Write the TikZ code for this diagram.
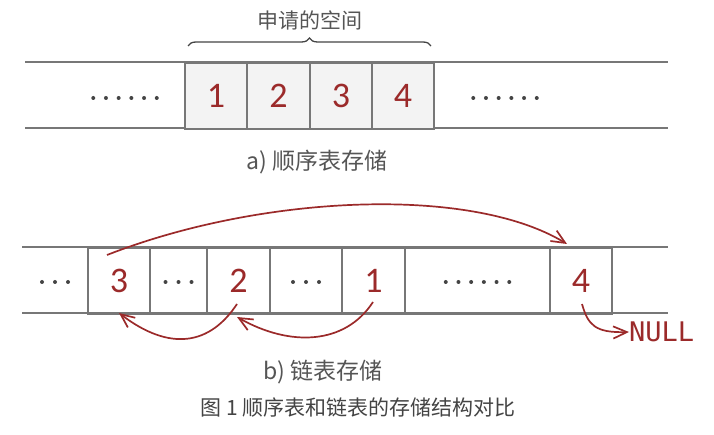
\documentclass[tikz,border=0pt]{standalone}
\usepackage{fontspec}
\setmainfont{Carlito}
\newfontfamily\cjk{Noto Sans CJK SC}
\newfontfamily\nulltxtfont{DejaVu Sans Mono}
\usetikzlibrary{arrows.meta,decorations.pathreplacing}
\definecolor{lred}{HTML}{9B2A2A}
\definecolor{lgray}{HTML}{777777}
\definecolor{cfill}{HTML}{F3F3F3}
\definecolor{tgray}{HTML}{555555}
\definecolor{dgray}{HTML}{444444}
\tikzset{
  rowline/.style={draw=lgray,line width=1.5pt},
  cell/.style={draw=lgray,line width=1.5pt,minimum height=66pt,inner sep=0pt,
    text=lred,font=\fontsize{36}{36}\selectfont},
  gcell/.style={cell,fill=cfill},
  link/.style={draw=lred,line width=1.7pt,-{Straight Barb[angle=48:15pt,line width=1.7pt]}},
  captext/.style={font=\cjk\fontsize{23}{23}\selectfont,text=tgray},
  dotc/.style={fill=dgray}
}
\begin{document}
\begin{tikzpicture}[x=1pt,y=-1pt]
\useasboundingbox (0,0) rectangle (714,435);
% ---- a) sequential
\draw[rowline] (25,62) -- (668,62);
\draw[rowline] (25,128) -- (668,128);
\node[gcell,minimum width=62pt] (t1) at (216,96) {1};
\node[gcell,minimum width=63pt] (t2) at (278.5,96) {2};
\node[gcell,minimum width=62pt] (t3) at (341,96) {3};
\node[gcell,minimum width=62pt] (t4) at (403,96) {4};
\coordinate (tl) at (125,98);
\coordinate (tr) at (505,98);
\foreach \k in {-2.5,-1.5,...,2.5} {
  \fill[dotc] (tl) ++(\k*12.7,0) circle (2);
  \fill[dotc] (tr) ++(\k*12.7,0) circle (2);
}
\draw[decorate,decoration={brace,amplitude=8pt},draw=dgray,line width=1.3pt] (188,46) -- (431,46);
\node[font=\cjk\fontsize{21}{21}\selectfont,text=tgray] (lbl) at (310,20) {申请的空间};
\node[captext] (capa) at (317,162) {a) 顺序表存储};
% ---- b) linked
\draw[rowline] (22,247) -- (668,247);
\draw[rowline] (22,313) -- (668,313);
\node[cell,minimum width=62pt] (b3) at (119,281) {3};
\node[cell,minimum width=57pt] (bd2) at (178.5,281) {};
\node[cell,minimum width=63pt] (b2) at (238.5,281) {2};
\node[cell,minimum width=72pt] (bd3) at (306,281) {};
\node[cell,minimum width=63pt] (b1) at (373.5,281) {1};
\node[cell,minimum width=145pt] (bd4) at (477.5,281) {};
\node[cell,minimum width=62pt] (b4) at (581,281) {4};
\coordinate (bd1) at (55,282);
\foreach \k in {-1,0,1} {
  \fill[dotc] (bd1) ++(\k*13,0) circle (2);
  \fill[dotc] (bd2) ++(\k*13,1) circle (2);
  \fill[dotc] (bd3) ++(\k*13,1) circle (2);
}
\foreach \k in {-2.5,-1.5,...,2.5}
  \fill[dotc] (bd4) ++(\k*12.7,1) circle (2);
% links
\coordinate (s3) at (107,255);
\coordinate (e4) at (567,244);
\draw[link] (s3) .. controls (260,195) and (470,185) .. (e4);
\coordinate (s2) at (237,304);
\coordinate (e3) at (119,313);
\draw[link] (s2) .. controls (210,345) and (170,352) .. (e3);
\coordinate (s1) at (373,302);
\coordinate (e2) at (237,317);
\draw[link] (s1) .. controls (345,345) and (290,347) .. (e2);
\coordinate (s4) at (582,304);
\node[anchor=west,text=lred,font=\nulltxtfont\fontsize{27}{27}\selectfont,inner sep=0pt] (null) at (629,332) {NULL};
\draw[link] (s4) .. controls (588,325) and (595,333) .. (null.west);
\node[captext] (capb) at (323,372) {b) 链表存储};
\node[font=\cjk\fontsize{21}{21}\selectfont,text=dgray] (fig) at (358,408) {图 1 顺序表和链表的存储结构对比};
\end{tikzpicture}
\end{document}
